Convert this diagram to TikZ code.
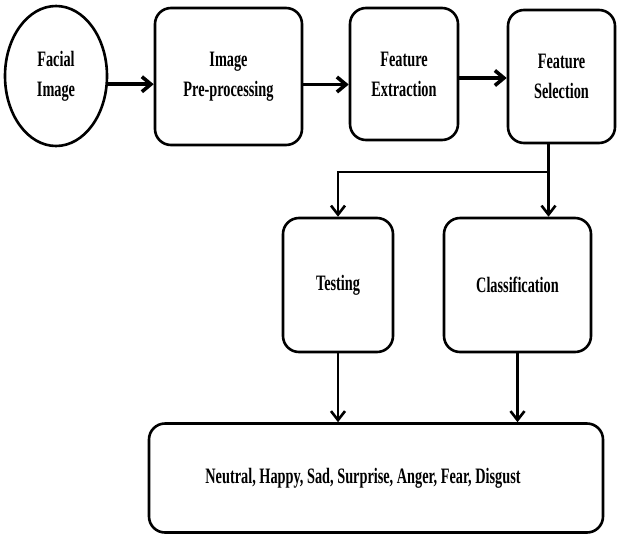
\documentclass[tikz,border=0pt]{standalone}
\usepackage{fontspec}
\setmainfont{Liberation Serif}[FakeStretch=0.65]
\usetikzlibrary{shapes.geometric,arrows.meta}

\tikzset{
	stagebox/.style={draw,line width=2.6pt,rounded corners=16pt,align=center,
		font=\fontsize{22}{30}\selectfont\bfseries,inner sep=0pt},
	flow/.style={line width=3.6pt,-{Straight Barb[length=9pt,width=15pt]}},
	branch/.style={line width=2.6pt,-{Straight Barb[length=9pt,width=14pt]}},
}

\begin{document}
\begin{tikzpicture}[x=1pt,y=-1pt]
		\useasboundingbox (0,0) rectangle (617,533);
		
		\node[stagebox,ellipse,rounded corners=0pt,minimum width=102pt,minimum height=140pt] (face) at (56,76) {Facial\\Image};
		\node[stagebox,minimum width=147pt,minimum height=137pt] (prep) at (228.5,76.5) {Image\\Pre-processing};
		\node[stagebox,minimum width=108pt,minimum height=132pt] (extr) at (404,74) {Feature\\Extraction};
		\node[stagebox,minimum width=107pt,minimum height=133pt] (sel) at (561.5,76.5) {Feature\\Selection};
		\node[stagebox,minimum width=110pt,minimum height=134pt] (test) at (338,285) {Testing};
		\node[stagebox,minimum width=147pt,minimum height=134pt] (clas) at (517.5,285) {Classification};
		\node[stagebox,minimum width=454pt,minimum height=109pt] (emo) at (376,478) {\hspace*{-26pt}Neutral, Happy, Sad, Surprise, Anger, Fear, Disgust};
		
		\coordinate (fork) at (548.5,172);
		
		\draw[flow] (face.-9) -- (face.-9 -| prep.west);
		\draw[flow] ([yshift=-8pt]prep.east) -- ([yshift=-8pt]prep.east -| extr.west);
		\draw[flow] ([yshift=-4pt]extr.east) -- ([yshift=-4pt]extr.east -| sel.west);
		
		\draw[line width=2.6pt] (fork |- sel.south) -- (fork);
		\draw[branch] (fork) -- (fork |- clas.north);
		\draw[branch] (fork) -| (test.north);
		\draw[branch] (test.south) -- (test.south |- emo.north);
		\draw[branch] (clas.south) -- (clas.south |- emo.north);
	\end{tikzpicture}
\end{document}
